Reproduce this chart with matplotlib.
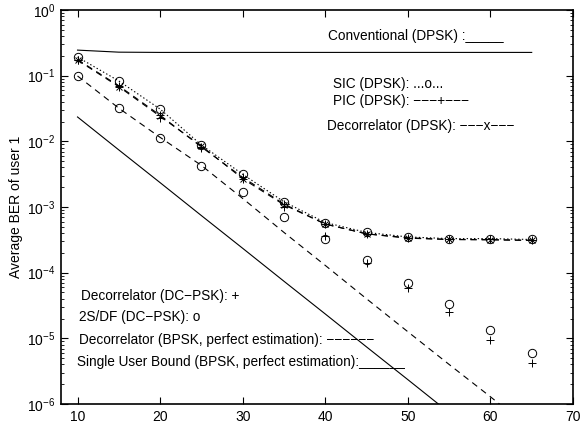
import matplotlib

matplotlib.use("Agg")
import matplotlib.pyplot as plt
import matplotlib.ticker as mticker

plt.rcParams["font.family"] = ["Liberation Sans", "DejaVu Sans"]
plt.rcParams["mathtext.fontset"] = "custom"
plt.rcParams["mathtext.rm"] = "Liberation Sans"
plt.rcParams["lines.scale_dashes"] = False

# SNR points (dB)
snr = [10, 15, 20, 25, 30, 35, 40, 45, 50, 55, 60, 65]

# BER curves
conventional = [0.245, 0.228, 0.226, 0.226, 0.226, 0.226, 0.226, 0.226, 0.226, 0.226, 0.226, 0.226]
sic_dpsk = [0.192, 0.083, 0.031, 0.0088, 0.00315, 0.0012, 5.8e-4, 4.1e-4, 3.5e-4, 3.3e-4, 3.3e-4, 3.2e-4]
pic_dpsk = [0.176, 0.070, 0.025, 0.0082, 0.00283, 0.00111, 5.5e-4, 3.9e-4, 3.4e-4, 3.2e-4, 3.2e-4, 3.1e-4]
dec_dpsk = [0.172, 0.068, 0.024, 0.0085, 0.0027, 0.00108, 5.5e-4, 3.9e-4, 3.35e-4, 3.2e-4, 3.15e-4, 3.1e-4]
dec_dcpsk = [0.176, 0.068, 0.023, 0.0078, 0.0027, 0.00101, 3.6e-4, 1.39e-4, 5.8e-5, 2.5e-5, 9.4e-6, 4.2e-6]
sdf_dcpsk = [0.099, 0.032, 0.0112, 0.00425, 0.00169, 7.1e-4, 3.26e-4, 1.56e-4, 6.9e-5, 3.33e-5, 1.34e-5, 5.9e-6]
dec_bpsk = [0.099, 0.032, 0.0115, 0.0043, 1.35e-3, 4.1e-4, 1.29e-4, 4.0e-5, 1.26e-5, 4.0e-6, 1.29e-6, 4.0e-7]
su_bound = [0.0235, 7.4e-3, 2.35e-3, 7.4e-4, 2.35e-4, 7.4e-5, 2.35e-5, 7.4e-6, 2.35e-6, 7.4e-7, 2.35e-7, 7.4e-8]

x_ticks = [10, 20, 30, 40, 50, 60, 70]
y_ticks = [1e-6, 1e-5, 1e-4, 1e-3, 1e-2, 1e-1, 1e0]

fig = plt.figure(figsize=(5.84, 4.26), dpi=100)
ax = fig.add_axes([61 / 584, 22 / 426, 512 / 584, 394 / 426])

lw = 0.8
ax.plot(snr, conventional, color="black", lw=lw)
ax.plot(snr, sic_dpsk, color="black", lw=lw, ls=":", marker="o", ms=6, mfc="none", mew=0.7)
ax.plot(snr, pic_dpsk, color="black", lw=lw, dashes=(4.5, 3.5), marker="+", ms=6, mew=0.7)
ax.plot(snr, dec_dpsk, color="black", lw=lw, dashes=(4.5, 3.5), marker="x", ms=5, mew=0.7)
ax.plot(snr, dec_dcpsk, color="black", ls="none", marker="+", ms=6, mew=0.7)
ax.plot(snr, sdf_dcpsk, color="black", ls="none", marker="o", ms=6, mfc="none", mew=0.7)
ax.plot(snr, dec_bpsk, color="black", lw=lw, dashes=(4.5, 3.5))
ax.plot(snr, su_bound, color="black", lw=lw)

ax.set_yscale("log")
ax.set_xlim(8, 70)
ax.set_ylim(1e-6, 1)
ax.set_xticks(x_ticks)
ax.set_xticklabels([str(t) for t in x_ticks])
ax.set_yticks(y_ticks)
ax.yaxis.set_minor_locator(mticker.LogLocator(base=10, subs=range(2, 10), numticks=20))
ax.yaxis.set_minor_formatter(mticker.NullFormatter())
ax.tick_params(which="both", direction="in", top=True, right=True, labelsize=10, pad=4)
ax.tick_params(which="major", length=5, width=0.8)
ax.tick_params(which="minor", length=2.5, width=0.6)
for s in ax.spines.values():
    s.set_linewidth(1.2)

ax.set_ylabel("Average BER of user 1", fontsize=10)
ax.yaxis.set_label_coords(-0.075, 0.5)
ax.set_xlabel("Average SNR of user 1 (dB)", fontsize=10)
ax.xaxis.set_label_coords(0.5, -0.075)

fs = 9.8
dash = "\u2212"
def note(px, py, s):
    ax.text((px - 61) / 512, (404 - py) / 394, s, transform=ax.transAxes,
            fontsize=fs, ha="left", va="center")

note(328, 36, "Conventional (DPSK) :_____")
note(333, 84, "SIC (DPSK): ...o...")
note(333, 101, "PIC (DPSK): " + dash * 3 + "+" + dash * 3)
note(327, 126, "Decorrelator (DPSK): " + dash * 3 + "x" + dash * 3)
note(81, 296, "Decorrelator (DC\u2212PSK): +")
note(79, 317, "2S/DF (DC\u2212PSK): o")
note(79, 340, "Decorrelator (BPSK, perfect estimation): " + dash * 6)
note(77, 362, "Single User Bound (BPSK, perfect estimation):______")

fig.savefig("out.png", dpi=100)
